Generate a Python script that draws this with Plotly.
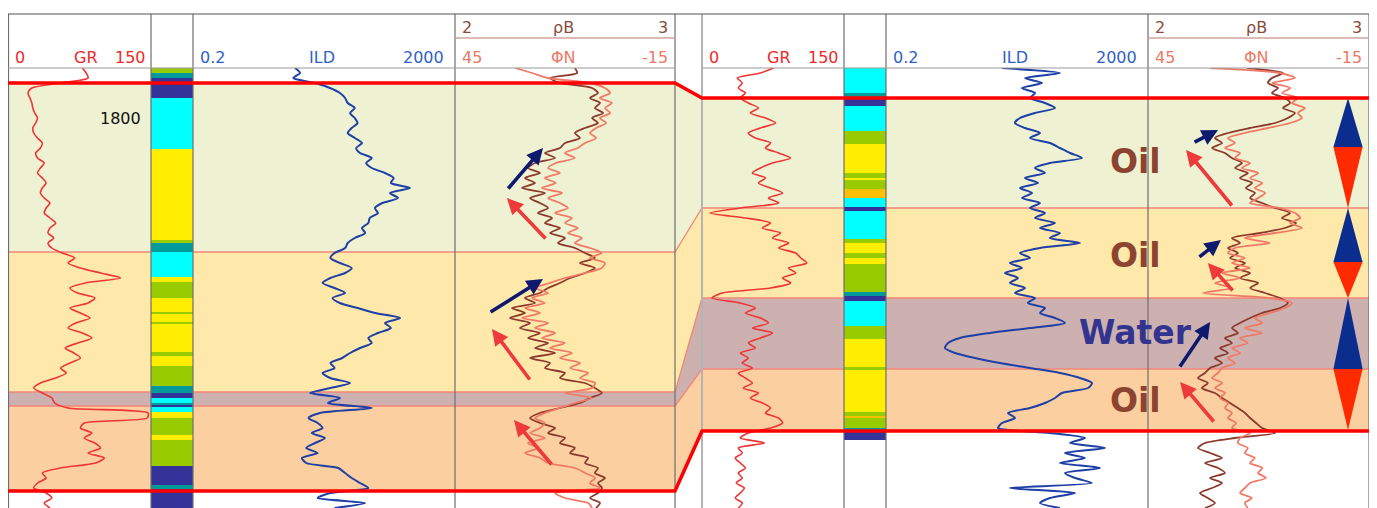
import plotly.graph_objects as go

# page is offset by the default 8px body margin, so the figure covers page x>=8, y>=8
PAGE_OFF = 8
FW, FH = 1369, 500

# ---------------- data ----------------
DEPTH = list(range(1790, 1879))  # m, 1 m sampling

GR_LEFT = [78, 82, 84, 55, 25, 21, 23, 25, 26, 28,
           31, 29, 26, 27, 31, 36, 34, 29, 31, 38,
           34, 31, 36, 40, 36, 34, 38, 44, 40, 38,
           44, 50, 44, 42, 48, 42, 46, 57, 70, 63,
           76, 97, 118, 81, 65, 73, 91, 84, 65, 76,
           86, 71, 63, 78, 88, 73, 60, 69, 76, 65,
           55, 61, 50, 34, 27, 36, 46, 49, 63, 147,
           146, 80, 76, 88, 80, 91, 97, 84, 101, 92,
           55, 36, 40, 31, 27, 40, 46, 38, 44]

ILD_LEFT = [7.2, 8.6, 6.8, 14.6, 24.7, 35, 42, 46, 59, 50,
            59, 65, 53, 46, 59, 76, 62, 71, 107, 88,
            107, 171, 232, 210, 410, 204, 270, 155, 120, 133,
            100, 95, 76, 85, 59, 46, 42, 29, 25, 35,
            53, 42, 25, 19, 29, 42, 27, 35, 65, 120,
            290, 171, 210, 133, 95, 107, 71, 50, 38, 25,
            29, 19, 25, 50, 25, 12.2, 35, 23, 107, 17.4,
            11.6, 16, 19, 13, 20.7, 14.6, 10.7, 16, 9.2, 10.7,
            33, 42, 53, 71, 95, 25, 16, 85, 29]

RHOB_LEFT = [2.545, 2.555, 2.432, 2.477, 2.623, 2.65, 2.614, 2.659, 2.636, 2.673,
             2.623, 2.65, 2.591, 2.545, 2.568, 2.5, 2.477, 2.409, 2.455, 2.364,
             2.332, 2.386, 2.318, 2.364, 2.305, 2.409, 2.341, 2.386, 2.423, 2.377,
             2.441, 2.409, 2.477, 2.432, 2.5, 2.468, 2.545, 2.591, 2.636, 2.568,
             2.636, 2.591, 2.523, 2.477, 2.423, 2.386, 2.318, 2.364, 2.259, 2.318,
             2.25, 2.341, 2.295, 2.386, 2.332, 2.423, 2.364, 2.455, 2.341, 2.432,
             2.409, 2.5, 2.477, 2.591, 2.636, 2.668, 2.614, 2.568, 2.477, 2.386,
             2.341, 2.386, 2.455, 2.423, 2.5, 2.477, 2.545, 2.523, 2.605, 2.591,
             2.65, 2.636, 2.682, 2.65, 2.668, 2.65, 2.614, 2.659, 2.641]

NPHI_LEFT = [28.6, 24.0, 19.6, 8.2, 4.1, 2.7, 5.5, 2.2, 4.1, 2.7,
             5.5, 3.8, 6.5, 8.2, 6.5, 9.5, 11.5, 15.0, 12.3, 17.5,
             19.6, 16.4, 20.5, 17.5, 21.3, 15.8, 19.6, 16.4, 14.2, 17.7,
             13.1, 15.0, 11.5, 14.2, 10.4, 12.3, 8.2, 5.0, 8.2, 4.1,
             5.0, 9.5, 15.0, 19.1, 23.2, 19.6, 24.0, 20.5, 25.9, 21.8,
             26.7, 19.6, 23.2, 17.7, 21.3, 15.0, 19.1, 13.1, 16.4, 10.9,
             13.6, 8.7, 10.9, 6.8, 7.6, 15.0, 7.6, 12.3, 16.4, 20.5,
             23.2, 20.5, 21.8, 24.5, 20.5, 25.1, 22.4, 25.9, 21.8, 19.6,
             12.3, 9.5, 6.8, 8.2, 5.5, 17.7, 15.0, 8.7, 7.6]

GR_RIGHT = [75.5, 61.7, 37.2, 42.6, 38.3, 45.8, 40.4, 48.9, 59.6, 51.1,
            67.0, 77.7, 61.7, 48.9, 56.4, 72.4, 67.0, 80.9, 93.6, 74.5,
            61.7, 53.2, 67.0, 59.6, 72.4, 85.1, 70.2, 80.9, 40.4, 8.5,
            45.8, 72.4, 63.8, 83.0, 74.5, 91.5, 80.9, 99.0, 104.3, 110.7,
            91.5, 99.0, 85.1, 93.6, 72.4, 21.3, 10.6, 40.4, 56.4, 45.8,
            61.7, 70.2, 53.2, 74.5, 61.7, 48.9, 56.4, 40.4, 48.9, 42.6,
            53.2, 38.3, 45.8, 53.2, 43.6, 59.6, 51.1, 63.8, 72.4, 67.0,
            80.9, 85.1, 72.4, 48.9, 40.4, 66.0, 38.3, 42.6, 35.1, 40.4,
            45.8, 38.3, 42.6, 36.2, 44.7, 40.4, 35.1, 42.6, 38.3]

ILD_RIGHT = [11.8, 90.6, 26.5, 48.2, 23.8, 37.7, 31.6, 53.5, 76, 37.7,
             22.2, 18.6, 26.5, 44.9, 31.6, 63.8, 90.6, 129, 196, 63.8,
             37.7, 53.5, 26.5, 41.9, 22.2, 33.9, 23.8, 44.9, 31.6, 53.5,
             37.7, 76, 44.9, 90.6, 63.8, 183, 44.9, 22.2, 31.6, 15.6,
             23.8, 13.1, 20.7, 15.6, 26.5, 18.6, 37.7, 29.4, 53.5, 44.9,
             76, 108, 31.6, 7.7, 2.7, 1.77, 1.59, 2.26, 4.57, 11.0,
             31.6, 90.6, 183, 279, 243, 97, 76, 53.5, 31.6, 14.6,
             18.6, 11.8, 10.3, 63.8, 218, 129, 441, 108, 218, 90.6,
             370, 108, 154, 279, 15.6, 154, 63.8, 44.9, 90.6]

RHOB_RIGHT = [2.448, 2.611, 2.561, 2.543, 2.588, 2.561, 2.62, 2.643, 2.611, 2.665,
              2.633, 2.575, 2.462, 2.362, 2.303, 2.335, 2.29, 2.348, 2.38, 2.425,
              2.394, 2.452, 2.416, 2.471, 2.443, 2.484, 2.462, 2.516, 2.575, 2.643,
              2.606, 2.67, 2.62, 2.507, 2.38, 2.416, 2.362, 2.407, 2.371, 2.439,
              2.394, 2.462, 2.416, 2.498, 2.462, 2.529, 2.597, 2.633, 2.597, 2.516,
              2.462, 2.416, 2.38, 2.407, 2.348, 2.38, 2.326, 2.362, 2.303, 2.335,
              2.281, 2.258, 2.226, 2.271, 2.244, 2.303, 2.335, 2.371, 2.407, 2.439,
              2.462, 2.489, 2.516, 2.575, 2.394, 2.258, 2.226, 2.281, 2.335, 2.258,
              2.317, 2.348, 2.281, 2.335, 2.29, 2.235, 2.271, 2.303, 2.258]

NPHI_RIGHT = [28.2, 9.2, 5.1, 11.3, 6.4, 8.6, 4.3, 5.9, 2.4, 4.3,
              3.2, 6.4, 12.4, 18.7, 23.3, 21.4, 24.1, 20.0, 21.4, 17.3,
              19.5, 15.1, 17.3, 14.0, 16.0, 13.2, 15.1, 17.3, 9.2, 5.1,
              3.7, 6.4, 3.2, 10.5, 18.7, 11.9, 21.4, 23.3, 18.7, 22.2,
              17.3, 24.9, 20.0, 26.8, 22.2, 30.1, 11.9, 5.9, 7.8, 11.9,
              16.0, 14.0, 18.7, 14.0, 20.0, 17.9, 22.2, 20.0, 23.3, 21.4,
              24.9, 26.0, 27.6, 24.9, 26.8, 24.1, 25.5, 23.3, 24.1, 22.2,
              23.3, 21.1, 22.2, 17.3, 20.0, 20.6, 17.9, 18.7, 16.0, 17.3,
              14.0, 15.1, 13.0, 17.3, 18.7, 20.0, 16.8, 18.7, 17.9]

# lithology column intervals (top depth, base depth, code)
LITHO_LEFT_TOP = [1790.0, 1791.0, 1792.0, 1796.0, 1806.2, 1824.4, 1825.0, 1826.8, 1831.8, 1832.8,
                  1836.0, 1838.8, 1839.2, 1840.8, 1841.2, 1846.8, 1847.6, 1849.6, 1853.6, 1855.0,
                  1856.0, 1857.0, 1857.4, 1857.8, 1858.8, 1860.0, 1863.4, 1864.4, 1869.6, 1873.4,
                  1874.2]
LITHO_LEFT_BASE = [1791.0, 1792.0, 1796.0, 1806.2, 1824.4, 1825.0, 1826.8, 1831.8, 1832.8, 1836.0,
                   1838.8, 1839.2, 1840.8, 1841.2, 1846.8, 1847.6, 1849.6, 1853.6, 1855.0, 1856.0,
                   1857.0, 1857.4, 1857.8, 1858.8, 1860.0, 1863.4, 1864.4, 1869.6, 1873.4, 1874.2,
                   1878.0]
LITHO_LEFT_CODE = ["G", "T", "B", "C", "Y", "G", "T", "C", "Y", "G",
                   "Y", "G", "Y", "G", "Y", "G", "Y", "G", "T", "B",
                   "C", "T", "B", "C", "Y", "G", "Y", "G", "B", "T",
                   "B"]

LITHO_RIGHT_TOP = [1790.0, 1795.0, 1795.8, 1797.6, 1802.6, 1805.2, 1811.0, 1812.0, 1812.4, 1814.2,
                   1816.0, 1817.8, 1818.6, 1824.2, 1825.0, 1827.0, 1828.0, 1829.2, 1834.8, 1835.6,
                   1836.6, 1841.6, 1844.2, 1849.8, 1850.4, 1858.8, 1859.6, 1860.0, 1862.0, 1862.6]
LITHO_RIGHT_BASE = [1795.0, 1795.8, 1797.6, 1802.6, 1805.2, 1811.0, 1812.0, 1812.4, 1814.2, 1816.0,
                    1817.8, 1818.6, 1824.2, 1825.0, 1827.0, 1828.0, 1829.2, 1834.8, 1835.6, 1836.6,
                    1841.6, 1844.2, 1849.8, 1850.4, 1858.8, 1859.6, 1860.0, 1862.0, 1862.6, 1864.4]
LITHO_RIGHT_CODE = ["C", "T", "B", "C", "G", "Y", "G", "Y", "G", "O",
                    "C", "B", "C", "G", "Y", "G", "Y", "G", "T", "B",
                    "C", "G", "Y", "G", "Y", "G", "O", "G", "T", "B"]

# correlated zones
ZONE_LABELS = ["Oil", "Oil", "Water", "Oil"]
ZONE_TOP_LEFT = [1793.0, 1826.8, 1854.8, 1857.6]
ZONE_BASE_LEFT = [1826.8, 1854.8, 1857.6, 1874.6]
ZONE_TOP_RIGHT = [1796.0, 1818.0, 1836.0, 1850.2]
ZONE_BASE_RIGHT = [1818.0, 1836.0, 1850.2, 1862.6]
LABEL_DEPTH = [1808.6, 1827.4, 1842.8, 1856.4]

# fining / coarsening triangles (right well)
TRI_TOP = [1796.0, 1818.0, 1836.0]
TRI_MID = [1805.8, 1828.8, 1850.2]
TRI_BASE = [1818.0, 1836.0, 1862.4]

# trend arrows: (rhob tail, depth tail, rhob head, depth head, kind)
ARROWS_LEFT = [(2.236, 1814.4, 2.400, 1806.0, "up"),
               (2.418, 1824.4, 2.236, 1816.0, "down"),
               (2.155, 1839.0, 2.400, 1832.2, "up"),
               (2.345, 1852.6, 2.168, 1842.2, "down"),
               (2.445, 1869.6, 2.268, 1860.4, "down")]
ARROWS_RIGHT = [(2.204, 1805.0, 2.317, 1802.4, "up"),
                (2.385, 1817.8, 2.172, 1806.4, "down"),
                (2.226, 1828.0, 2.330, 1824.4, "up"),
                (2.389, 1834.8, 2.271, 1829.0, "down"),
                (2.140, 1850.0, 2.281, 1840.8, "up"),
                (2.303, 1861.0, 2.145, 1852.8, "down")]

DEPTH_TICKS = [1800]

# ---------------- style ----------------
LITHO_COLORS = {"G": "#99CC00", "T": "#009A9A", "B": "#333399", "C": "#00FFFF",
                "Y": "#FFEE00", "O": "#FFC000"}
ZONE_COLORS = ["#EEF2D2", "#FEE8AA", "#CDB1B1", "#FBCFA0"]
C_GR, C_ILD, C_RHOB, C_NPHI = "#EE3535", "#1E3FA6", "#8C3A2C", "#F07A68"
FONT = "DejaVu Sans"


def px(x):
    """page pixel x -> paper fraction"""
    return (x - PAGE_OFF) / FW


def py(y):
    """page pixel y -> paper fraction"""
    return 1 - (y - PAGE_OFF) / FH


LEFT = dict(gr=(8, 151), lith=(151, 193), ild=(193, 455), den=(455, 675))
RIGHT = dict(gr=(702, 844), lith=(844, 886), ild=(886, 1148), den=(1148, 1369))

fig = go.Figure()

# axes
ax_defs = {
    "xaxis": dict(domain=[px(LEFT["gr"][0]), px(LEFT["gr"][1])], range=[0, 150]),
    "xaxis2": dict(domain=[px(LEFT["lith"][0]), px(LEFT["lith"][1])], range=[0, 1]),
    "xaxis3": dict(domain=[px(LEFT["ild"][0]), px(LEFT["ild"][1])], type="log",
                   range=[-0.69897, 3.30103]),
    "xaxis4": dict(domain=[px(LEFT["den"][0]), px(LEFT["den"][1])], range=[2, 3]),
    "xaxis5": dict(domain=[px(LEFT["den"][0]), px(LEFT["den"][1])], range=[45, -15],
                   overlaying="x4"),
    "xaxis6": dict(domain=[px(RIGHT["gr"][0]), px(RIGHT["gr"][1])], range=[0, 150]),
    "xaxis7": dict(domain=[px(RIGHT["lith"][0]), px(RIGHT["lith"][1])], range=[0, 1]),
    "xaxis8": dict(domain=[px(RIGHT["ild"][0]), px(RIGHT["ild"][1])], type="log",
                   range=[-0.69897, 3.30103]),
    "xaxis9": dict(domain=[px(RIGHT["den"][0]), px(RIGHT["den"][1])], range=[2, 3]),
    "xaxis10": dict(domain=[px(RIGHT["den"][0]), px(RIGHT["den"][1])], range=[45, -15],
                    overlaying="x9"),
}
for k, v in ax_defs.items():
    v.update(visible=False, anchor="y", showgrid=False, zeroline=False, fixedrange=True)

# lithology columns
for top, base, code, xa in [(LITHO_LEFT_TOP, LITHO_LEFT_BASE, LITHO_LEFT_CODE, "x2"),
                            (LITHO_RIGHT_TOP, LITHO_RIGHT_BASE, LITHO_RIGHT_CODE, "x7")]:
    fig.add_trace(go.Bar(x=[0.5] * len(top), y=[b - t for t, b in zip(top, base)], base=top,
                         width=[1.0] * len(top),
                         marker=dict(color=[LITHO_COLORS[c] for c in code], line=dict(width=0)),
                         xaxis=xa, yaxis="y", hoverinfo="skip", showlegend=False))

# log curves
curves = [(GR_LEFT, "x", C_GR, 1.6), (ILD_LEFT, "x3", C_ILD, 2.0),
          (NPHI_LEFT, "x5", C_NPHI, 1.8), (RHOB_LEFT, "x4", C_RHOB, 1.8),
          (GR_RIGHT, "x6", C_GR, 1.6), (ILD_RIGHT, "x8", C_ILD, 2.0),
          (NPHI_RIGHT, "x10", C_NPHI, 1.8), (RHOB_RIGHT, "x9", C_RHOB, 1.8)]
for vals, xa, col, lw in curves:
    fig.add_trace(go.Scatter(x=vals, y=DEPTH, mode="lines", xaxis=xa, yaxis="y",
                             line=dict(color=col, width=lw, shape="spline", smoothing=0.7),
                             hoverinfo="skip", showlegend=False))

# triangles
TRI_C, TRI_HW = 2.905, 0.066
for t, m, b in zip(TRI_TOP, TRI_MID, TRI_BASE):
    fig.add_trace(go.Scatter(x=[TRI_C, TRI_C + TRI_HW, TRI_C - TRI_HW, TRI_C], y=[t, m, m, t],
                             fill="toself", fillcolor="#0B2E8E", mode="lines",
                             line=dict(width=0, color="#0B2E8E"), xaxis="x9", yaxis="y",
                             hoverinfo="skip", showlegend=False))
    fig.add_trace(go.Scatter(x=[TRI_C - TRI_HW, TRI_C + TRI_HW, TRI_C, TRI_C - TRI_HW],
                             y=[m, m, b, m],
                             fill="toself", fillcolor="#FF2A00", mode="lines",
                             line=dict(width=0, color="#FF2A00"), xaxis="x9", yaxis="y",
                             hoverinfo="skip", showlegend=False))

shapes = []
XL0, XL1, XR0, XR1 = px(8), px(675), px(702), px(1369)


def corr_pts(dl, dr):
    return [(XL0, dl), (XL1, dl), (XR0, dr), (XR1, dr)]


def path_of(pts, close=False):
    return "M " + " L ".join(f"{x:.5f},{y}" for x, y in pts) + (" Z" if close else "")


# zone fills
for i in range(len(ZONE_LABELS)):
    pts = corr_pts(ZONE_TOP_LEFT[i], ZONE_TOP_RIGHT[i]) + \
        corr_pts(ZONE_BASE_LEFT[i], ZONE_BASE_RIGHT[i])[::-1]
    shapes.append(dict(type="path", path=path_of(pts, True), xref="paper", yref="y",
                       layer="below", fillcolor=ZONE_COLORS[i], line=dict(width=0)))

# thin zone boundaries
bounds = [(ZONE_TOP_LEFT[i], ZONE_TOP_RIGHT[i]) for i in range(1, len(ZONE_LABELS))]
for dl, dr in bounds:
    shapes.append(dict(type="path", xref="paper", yref="y", layer="below",
                       path=path_of(corr_pts(dl, dr)),
                       line=dict(color="#F2877A", width=1.3), fillcolor="rgba(0,0,0,0)"))

# frame lines
GRAY = "#6E6E6E"
for xv in [8.5, 151, 193, 455, 675, 844, 886, 1148, 1369]:
    shapes.append(dict(type="line", xref="paper", yref="paper", x0=px(xv), x1=px(xv),
                       y0=0, y1=py(14), line=dict(color=GRAY, width=1.2), layer="above"))
shapes.append(dict(type="line", xref="paper", yref="paper", x0=px(702), x1=px(702),
                   y0=0, y1=py(14), line=dict(color="#B4B4B4", width=2), layer="above"))
shapes.append(dict(type="line", xref="paper", yref="paper", x0=px(8), x1=px(1369),
                   y0=py(14), y1=py(14), line=dict(color="#555555", width=1.2)))
for a, b in [(8, 675), (702, 1369)]:
    shapes.append(dict(type="line", xref="paper", yref="paper", x0=px(a), x1=px(b),
                       y0=py(68), y1=py(68), line=dict(color="#9A9A9A", width=1.2)))
for a, b in [(455, 675), (1148, 1369)]:
    shapes.append(dict(type="line", xref="paper", yref="paper", x0=px(a), x1=px(b),
                       y0=py(38), y1=py(38), line=dict(color="#CFA49B", width=1.5)))

# thick red top / base correlation lines
for dl, dr in [(ZONE_TOP_LEFT[0], ZONE_TOP_RIGHT[0]), (ZONE_BASE_LEFT[-1], ZONE_BASE_RIGHT[-1])]:
    shapes.append(dict(type="path", xref="paper", yref="y", layer="above",
                       path=path_of(corr_pts(dl, dr)),
                       line=dict(color="#FF0000", width=3.5), fillcolor="rgba(0,0,0,0)"))

annotations = []


def head(text, x, y, anchor, color):
    annotations.append(dict(text=text, x=px(x), y=py(y), xref="paper", yref="paper",
                            xanchor=anchor, yanchor="middle", showarrow=False,
                            font=dict(family=FONT, size=16, color=color)))


C_GRT, C_ILDT, C_RBT, C_NT = "#F02828", "#2F5FC8", "#8A4A3C", "#EA7A66"
for T in (LEFT, RIGHT):
    g0, g1 = T["gr"]
    i0, i1 = T["ild"]
    d0, d1 = T["den"]
    head("0", g0 + 5, 58, "left", C_GRT)
    head("GR", (g0 + g1) / 2 + 6, 58, "center", C_GRT)
    head("150", g1 - 3, 58, "right", C_GRT)
    head("0.2", i0 + 5, 58, "left", C_ILDT)
    head("ILD", (i0 + i1) / 2 - 2, 58, "center", C_ILDT)
    head("2000", i1 - 9, 58, "right", C_ILDT)
    head("2", d0 + 5, 27, "left", C_RBT)
    head("ρB", (d0 + d1) / 2 - 2, 27, "center", C_RBT)
    head("3", d1 - 5, 27, "right", C_RBT)
    head("45", d0 + 5, 58, "left", C_NT)
    head("ΦN", (d0 + d1) / 2 - 2, 58, "center", C_NT)
    head("-15", d1 - 5, 58, "right", C_NT)

for d in DEPTH_TICKS:
    annotations.append(dict(text=str(d), x=px(143), y=d, xref="paper", yref="y",
                            xanchor="right", yanchor="middle", showarrow=False,
                            font=dict(family=FONT, size=16, color="#111111")))

for lab, d in zip(ZONE_LABELS, LABEL_DEPTH):
    col = "#33348F" if lab == "Water" else "#8C4431"
    annotations.append(dict(text=f"<b>{lab}</b>", x=px(1135), y=d, xref="paper", yref="y",
                            xanchor="center", yanchor="middle", showarrow=False,
                            font=dict(family=FONT, size=33, color=col)))

for arrows, xa in [(ARROWS_LEFT, "x4"), (ARROWS_RIGHT, "x9")]:
    for xt, yt, xh, yh, kind in arrows:
        col = "#0D1A6E" if kind == "up" else "#EE3A3A"
        annotations.append(dict(text="", x=xh, y=yh, ax=xt, ay=yt, xref=xa, yref="y",
                                axref=xa, ayref="y", showarrow=True, arrowhead=2,
                                arrowsize=0.9, arrowwidth=3.6, arrowcolor=col, standoff=0))

fig.update_layout(
    width=FW, height=FH, margin=dict(l=0, r=0, t=0, b=0),
    paper_bgcolor="white", plot_bgcolor="rgba(0,0,0,0)",
    barmode="overlay", bargap=0, showlegend=False,
    yaxis=dict(domain=[0, py(68)], range=[1878, 1790], visible=False, showgrid=False,
               zeroline=False, fixedrange=True),
    shapes=shapes, annotations=annotations,
    **ax_defs,
)

fig.write_html("out.html")
